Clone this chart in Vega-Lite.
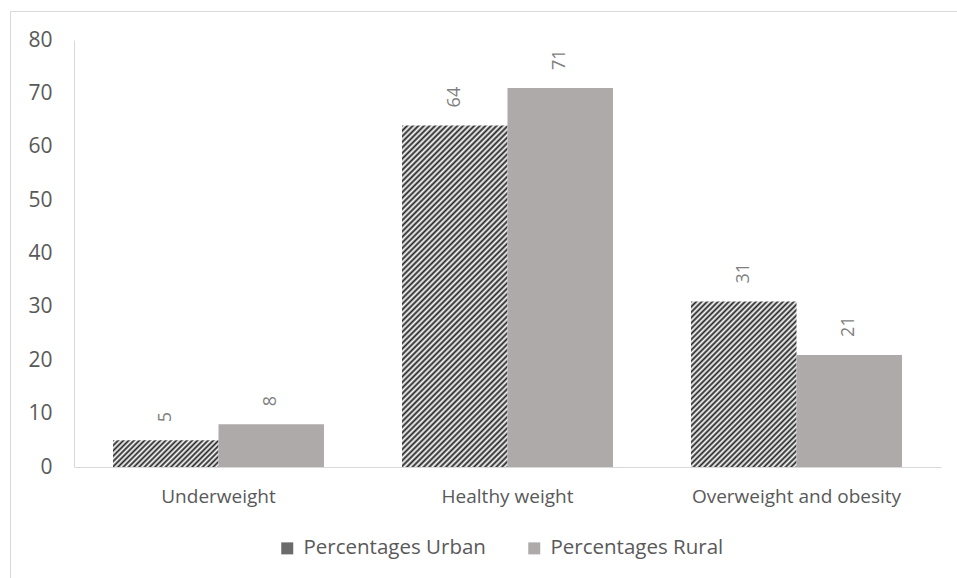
{
  "$schema": "https://vega.github.io/schema/vega-lite/v6.json",
  "width": 867,
  "height": 427,
  "autosize": {"type": "none"},
  "padding": {"left": 74, "top": 40, "right": 16, "bottom": 111},
  "background": "white",
  "config": {"view": {"stroke": null}, "font": "Open Sans"},
  "layer": [
    {
      "data": {"values": [{}]},
      "mark": {"type": "rect", "fill": "transparent", "stroke": "#d9d9d9", "strokeWidth": 1},
      "encoding": {
        "x": {"datum": 0, "type": "quantitative", "scale": {"domain": [0, 1], "range": [-63.5, 900]}, "axis": null},
        "x2": {"datum": 1},
        "y": {"datum": 0, "type": "quantitative", "scale": {"domain": [0, 1], "range": [-28.5, 560]}, "axis": null},
        "y2": {"datum": 1}
      }
    },
    {
      "data": {"values": [
        {"category": "Underweight", "series": "Percentages Urban", "value": 5},
        {"category": "Underweight", "series": "Percentages Rural", "value": 8},
        {"category": "Healthy weight", "series": "Percentages Urban", "value": 64},
        {"category": "Healthy weight", "series": "Percentages Rural", "value": 71},
        {"category": "Overweight and obesity", "series": "Percentages Urban", "value": 31},
        {"category": "Overweight and obesity", "series": "Percentages Rural", "value": 21}
      ]},
      "encoding": {
        "x": {
          "field": "category", "type": "nominal",
          "sort": ["Underweight", "Healthy weight", "Overweight and obesity"],
          "scale": {"paddingInner": 0.27, "paddingOuter": 0.135},
          "axis": {"title": null, "labelAngle": 0, "ticks": false, "domainColor": "#d9d9d9", "domainWidth": 1, "labelColor": "#595959", "labelFont": "Open Sans", "labelFontSize": 19, "labelPadding": 20, "labelLimit": 0}
        },
        "xOffset": {"field": "series", "type": "nominal", "sort": ["Percentages Urban", "Percentages Rural"]},
        "y": {
          "field": "value", "type": "quantitative",
          "scale": {"domain": [0, 80], "nice": false},
          "axis": {"title": null, "values": [0, 10, 20, 30, 40, 50, 60, 70, 80], "grid": false, "ticks": false, "domainColor": "#d9d9d9", "labelColor": "#595959", "labelFont": "Open Sans", "labelFontSize": 21, "labelPadding": 22}
        }
      },
      "layer": [
        {
          "mark": {"type": "bar"},
          "encoding": {
            "color": {
              "field": "series", "type": "nominal",
              "scale": {"domain": ["Percentages Urban", "Percentages Rural"], "range": ["#6b6b6b", "#aeaaaa"]},
              "condition": [
                {"test": "datum.series === 'Percentages Urban' && datum.category === 'Underweight'",
                 "value": {"gradient": "linear", "x1": 0, "y1": 0, "x2": 1.1776, "y2": 0.2979, "stops": [
{"offset":0,"color":"#222"},{"offset":0.02,"color":"#fff"},{"offset":0.04,"color":"#222"},{"offset":0.06,"color":"#fff"},{"offset":0.08,"color":"#222"},{"offset":0.1,"color":"#fff"},{"offset":0.12,"color":"#222"},{"offset":0.14,"color":"#fff"},{"offset":0.16,"color":"#222"},{"offset":0.18,"color":"#fff"},{"offset":0.2,"color":"#222"},{"offset":0.22,"color":"#fff"},{"offset":0.24,"color":"#222"},{"offset":0.26,"color":"#fff"},{"offset":0.28,"color":"#222"},{"offset":0.3,"color":"#fff"},{"offset":0.32,"color":"#222"},{"offset":0.34,"color":"#fff"},{"offset":0.36,"color":"#222"},{"offset":0.38,"color":"#fff"},{"offset":0.4,"color":"#222"},{"offset":0.42,"color":"#fff"},{"offset":0.44,"color":"#222"},{"offset":0.46,"color":"#fff"},{"offset":0.48,"color":"#222"},{"offset":0.5,"color":"#fff"},{"offset":0.52,"color":"#222"},{"offset":0.54,"color":"#fff"},{"offset":0.56,"color":"#222"},{"offset":0.58,"color":"#fff"},{"offset":0.6,"color":"#222"},{"offset":0.62,"color":"#fff"},{"offset":0.64,"color":"#222"},{"offset":0.66,"color":"#fff"},{"offset":0.68,"color":"#222"},{"offset":0.7,"color":"#fff"},{"offset":0.72,"color":"#222"},{"offset":0.74,"color":"#fff"},{"offset":0.76,"color":"#222"},{"offset":0.78,"color":"#fff"},{"offset":0.8,"color":"#222"},{"offset":0.82,"color":"#fff"},{"offset":0.84,"color":"#222"},{"offset":0.86,"color":"#fff"},{"offset":0.88,"color":"#222"},{"offset":0.9,"color":"#fff"},{"offset":0.92,"color":"#222"},{"offset":0.94,"color":"#fff"},{"offset":0.96,"color":"#222"},{"offset":0.98,"color":"#fff"},{"offset":1,"color":"#222"}]}},
                {"test": "datum.series === 'Percentages Urban' && datum.category === 'Overweight and obesity'",
                 "value": {"gradient": "linear", "x1": 0, "y1": 0, "x2": 0.7424, "y2": 1.1643, "stops": [
{"offset":0,"color":"#222"},{"offset":0.01,"color":"#fff"},{"offset":0.02,"color":"#222"},{"offset":0.03,"color":"#fff"},{"offset":0.04,"color":"#222"},{"offset":0.05,"color":"#fff"},{"offset":0.06,"color":"#222"},{"offset":0.07,"color":"#fff"},{"offset":0.08,"color":"#222"},{"offset":0.09,"color":"#fff"},{"offset":0.1,"color":"#222"},{"offset":0.11,"color":"#fff"},{"offset":0.12,"color":"#222"},{"offset":0.13,"color":"#fff"},{"offset":0.14,"color":"#222"},{"offset":0.15,"color":"#fff"},{"offset":0.16,"color":"#222"},{"offset":0.17,"color":"#fff"},{"offset":0.18,"color":"#222"},{"offset":0.19,"color":"#fff"},{"offset":0.2,"color":"#222"},{"offset":0.21,"color":"#fff"},{"offset":0.22,"color":"#222"},{"offset":0.23,"color":"#fff"},{"offset":0.24,"color":"#222"},{"offset":0.25,"color":"#fff"},{"offset":0.26,"color":"#222"},{"offset":0.27,"color":"#fff"},{"offset":0.28,"color":"#222"},{"offset":0.29,"color":"#fff"},{"offset":0.3,"color":"#222"},{"offset":0.31,"color":"#fff"},{"offset":0.32,"color":"#222"},{"offset":0.33,"color":"#fff"},{"offset":0.34,"color":"#222"},{"offset":0.35,"color":"#fff"},{"offset":0.36,"color":"#222"},{"offset":0.37,"color":"#fff"},{"offset":0.38,"color":"#222"},{"offset":0.39,"color":"#fff"},{"offset":0.4,"color":"#222"},{"offset":0.41,"color":"#fff"},{"offset":0.42,"color":"#222"},{"offset":0.43,"color":"#fff"},{"offset":0.44,"color":"#222"},{"offset":0.45,"color":"#fff"},{"offset":0.46,"color":"#222"},{"offset":0.47,"color":"#fff"},{"offset":0.48,"color":"#222"},{"offset":0.49,"color":"#fff"},{"offset":0.5,"color":"#222"},{"offset":0.51,"color":"#fff"},{"offset":0.52,"color":"#222"},{"offset":0.53,"color":"#fff"},{"offset":0.54,"color":"#222"},{"offset":0.55,"color":"#fff"},{"offset":0.56,"color":"#222"},{"offset":0.57,"color":"#fff"},{"offset":0.58,"color":"#222"},{"offset":0.59,"color":"#fff"},{"offset":0.6,"color":"#222"},{"offset":0.61,"color":"#fff"},{"offset":0.62,"color":"#222"},{"offset":0.63,"color":"#fff"},{"offset":0.64,"color":"#222"},{"offset":0.65,"color":"#fff"},{"offset":0.66,"color":"#222"},{"offset":0.67,"color":"#fff"},{"offset":0.68,"color":"#222"},{"offset":0.69,"color":"#fff"},{"offset":0.7,"color":"#222"},{"offset":0.71,"color":"#fff"},{"offset":0.72,"color":"#222"},{"offset":0.73,"color":"#fff"},{"offset":0.74,"color":"#222"},{"offset":0.75,"color":"#fff"},{"offset":0.76,"color":"#222"},{"offset":0.77,"color":"#fff"},{"offset":0.78,"color":"#222"},{"offset":0.79,"color":"#fff"},{"offset":0.8,"color":"#222"},{"offset":0.81,"color":"#fff"},{"offset":0.82,"color":"#222"},{"offset":0.83,"color":"#fff"},{"offset":0.84,"color":"#222"},{"offset":0.85,"color":"#fff"},{"offset":0.86,"color":"#222"},{"offset":0.87,"color":"#fff"},{"offset":0.88,"color":"#222"},{"offset":0.89,"color":"#fff"},{"offset":0.9,"color":"#222"},{"offset":0.91,"color":"#fff"},{"offset":0.92,"color":"#222"},{"offset":0.93,"color":"#fff"},{"offset":0.94,"color":"#222"},{"offset":0.95,"color":"#fff"},{"offset":0.96,"color":"#222"},{"offset":0.97,"color":"#fff"},{"offset":0.98,"color":"#222"},{"offset":0.99,"color":"#fff"},{"offset":1,"color":"#222"}]}},
                {"test": "datum.series === 'Percentages Urban' && datum.category === 'Healthy weight'",
                 "value": {"gradient": "linear", "x1": 0, "y1": 0, "x2": 0.36903, "y2": 1.19488, "stops": [
{"offset":0,"color":"#222"},{"offset":0.00625,"color":"#fff"},{"offset":0.0125,"color":"#222"},{"offset":0.01875,"color":"#fff"},{"offset":0.025,"color":"#222"},{"offset":0.03125,"color":"#fff"},{"offset":0.0375,"color":"#222"},{"offset":0.04375,"color":"#fff"},{"offset":0.05,"color":"#222"},{"offset":0.05625,"color":"#fff"},{"offset":0.0625,"color":"#222"},{"offset":0.06875,"color":"#fff"},{"offset":0.075,"color":"#222"},{"offset":0.08125,"color":"#fff"},{"offset":0.0875,"color":"#222"},{"offset":0.09375,"color":"#fff"},{"offset":0.1,"color":"#222"},{"offset":0.10625,"color":"#fff"},{"offset":0.1125,"color":"#222"},{"offset":0.11875,"color":"#fff"},{"offset":0.125,"color":"#222"},{"offset":0.13125,"color":"#fff"},{"offset":0.1375,"color":"#222"},{"offset":0.14375,"color":"#fff"},{"offset":0.15,"color":"#222"},{"offset":0.15625,"color":"#fff"},{"offset":0.1625,"color":"#222"},{"offset":0.16875,"color":"#fff"},{"offset":0.175,"color":"#222"},{"offset":0.18125,"color":"#fff"},{"offset":0.1875,"color":"#222"},{"offset":0.19375,"color":"#fff"},{"offset":0.2,"color":"#222"},{"offset":0.20625,"color":"#fff"},{"offset":0.2125,"color":"#222"},{"offset":0.21875,"color":"#fff"},{"offset":0.225,"color":"#222"},{"offset":0.23125,"color":"#fff"},{"offset":0.2375,"color":"#222"},{"offset":0.24375,"color":"#fff"},
{"offset":0.25,"color":"#222"},{"offset":0.25625,"color":"#fff"},{"offset":0.2625,"color":"#222"},{"offset":0.26875,"color":"#fff"},{"offset":0.275,"color":"#222"},{"offset":0.28125,"color":"#fff"},{"offset":0.2875,"color":"#222"},{"offset":0.29375,"color":"#fff"},{"offset":0.3,"color":"#222"},{"offset":0.30625,"color":"#fff"},{"offset":0.3125,"color":"#222"},{"offset":0.31875,"color":"#fff"},{"offset":0.325,"color":"#222"},{"offset":0.33125,"color":"#fff"},{"offset":0.3375,"color":"#222"},{"offset":0.34375,"color":"#fff"},{"offset":0.35,"color":"#222"},{"offset":0.35625,"color":"#fff"},{"offset":0.3625,"color":"#222"},{"offset":0.36875,"color":"#fff"},{"offset":0.375,"color":"#222"},{"offset":0.38125,"color":"#fff"},{"offset":0.3875,"color":"#222"},{"offset":0.39375,"color":"#fff"},{"offset":0.4,"color":"#222"},{"offset":0.40625,"color":"#fff"},{"offset":0.4125,"color":"#222"},{"offset":0.41875,"color":"#fff"},{"offset":0.425,"color":"#222"},{"offset":0.43125,"color":"#fff"},{"offset":0.4375,"color":"#222"},{"offset":0.44375,"color":"#fff"},{"offset":0.45,"color":"#222"},{"offset":0.45625,"color":"#fff"},{"offset":0.4625,"color":"#222"},{"offset":0.46875,"color":"#fff"},{"offset":0.475,"color":"#222"},{"offset":0.48125,"color":"#fff"},{"offset":0.4875,"color":"#222"},{"offset":0.49375,"color":"#fff"},
{"offset":0.5,"color":"#222"},{"offset":0.50625,"color":"#fff"},{"offset":0.5125,"color":"#222"},{"offset":0.51875,"color":"#fff"},{"offset":0.525,"color":"#222"},{"offset":0.53125,"color":"#fff"},{"offset":0.5375,"color":"#222"},{"offset":0.54375,"color":"#fff"},{"offset":0.55,"color":"#222"},{"offset":0.55625,"color":"#fff"},{"offset":0.5625,"color":"#222"},{"offset":0.56875,"color":"#fff"},{"offset":0.575,"color":"#222"},{"offset":0.58125,"color":"#fff"},{"offset":0.5875,"color":"#222"},{"offset":0.59375,"color":"#fff"},{"offset":0.6,"color":"#222"},{"offset":0.60625,"color":"#fff"},{"offset":0.6125,"color":"#222"},{"offset":0.61875,"color":"#fff"},{"offset":0.625,"color":"#222"},{"offset":0.63125,"color":"#fff"},{"offset":0.6375,"color":"#222"},{"offset":0.64375,"color":"#fff"},{"offset":0.65,"color":"#222"},{"offset":0.65625,"color":"#fff"},{"offset":0.6625,"color":"#222"},{"offset":0.66875,"color":"#fff"},{"offset":0.675,"color":"#222"},{"offset":0.68125,"color":"#fff"},{"offset":0.6875,"color":"#222"},{"offset":0.69375,"color":"#fff"},{"offset":0.7,"color":"#222"},{"offset":0.70625,"color":"#fff"},{"offset":0.7125,"color":"#222"},{"offset":0.71875,"color":"#fff"},{"offset":0.725,"color":"#222"},{"offset":0.73125,"color":"#fff"},{"offset":0.7375,"color":"#222"},{"offset":0.74375,"color":"#fff"},
{"offset":0.75,"color":"#222"},{"offset":0.75625,"color":"#fff"},{"offset":0.7625,"color":"#222"},{"offset":0.76875,"color":"#fff"},{"offset":0.775,"color":"#222"},{"offset":0.78125,"color":"#fff"},{"offset":0.7875,"color":"#222"},{"offset":0.79375,"color":"#fff"},{"offset":0.8,"color":"#222"},{"offset":0.80625,"color":"#fff"},{"offset":0.8125,"color":"#222"},{"offset":0.81875,"color":"#fff"},{"offset":0.825,"color":"#222"},{"offset":0.83125,"color":"#fff"},{"offset":0.8375,"color":"#222"},{"offset":0.84375,"color":"#fff"},{"offset":0.85,"color":"#222"},{"offset":0.85625,"color":"#fff"},{"offset":0.8625,"color":"#222"},{"offset":0.86875,"color":"#fff"},{"offset":0.875,"color":"#222"},{"offset":0.88125,"color":"#fff"},{"offset":0.8875,"color":"#222"},{"offset":0.89375,"color":"#fff"},{"offset":0.9,"color":"#222"},{"offset":0.90625,"color":"#fff"},{"offset":0.9125,"color":"#222"},{"offset":0.91875,"color":"#fff"},{"offset":0.925,"color":"#222"},{"offset":0.93125,"color":"#fff"},{"offset":0.9375,"color":"#222"},{"offset":0.94375,"color":"#fff"},{"offset":0.95,"color":"#222"},{"offset":0.95625,"color":"#fff"},{"offset":0.9625,"color":"#222"},{"offset":0.96875,"color":"#fff"},{"offset":0.975,"color":"#222"},{"offset":0.98125,"color":"#fff"},{"offset":0.9875,"color":"#222"},{"offset":0.99375,"color":"#fff"},{"offset":1,"color":"#222"}]}}
              ],
              "legend": {
                "orient": "none", "legendX": 203, "legendY": 498, "direction": "horizontal", "title": null,
                "symbolType": "square", "symbolSize": 144, "symbolStrokeWidth": 0,
                "labelFont": "Open Sans", "labelFontSize": 20.5, "labelColor": "#595959", "labelLimit": 0,
                "labelOffset": 6, "columnPadding": 38, "padding": 0
              }
            }
          }
        },
        {
          "mark": {"type": "text", "angle": 270, "align": "left", "baseline": "middle", "dx": 18, "fontSize": 18, "font": "Open Sans", "color": "#7f7f7f"},
          "encoding": {"text": {"field": "value", "type": "quantitative"}}
        }
      ]
    }
  ],
  "resolve": {"scale": {"x": "independent", "y": "independent"}}
}
